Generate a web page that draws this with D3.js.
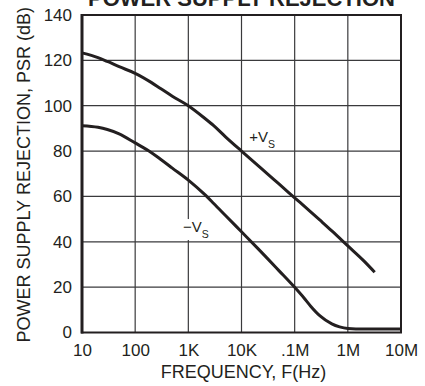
<!DOCTYPE html>
<html>
<head>
<meta charset="utf-8">
<script src="https://cdn.jsdelivr.net/npm/d3@7"></script>
<style>
  html, body { margin: 0; padding: 0; background: #fff; }
  svg { display: block; font-family: "Liberation Sans", Arial, Helvetica, sans-serif; }
</style>
</head>
<body>
<svg id="chart" width="425" height="386"></svg>
<script>
// Frequency axis ticks (Hz) and their printed labels
const freqTicks = [10, 100, 1e3, 1e4, 1e5, 1e6, 1e7];
const freqLabels = ["10", "100", "1K", "10K", ".1M", "1M", "10M"];
const psrTicks = [0, 20, 40, 60, 80, 100, 120, 140];

// +Vs supply rejection, frequency (Hz) vs PSR (dB)
const posFreq = [10, 20, 30, 50, 100, 200, 300, 500, 1e3, 2e3, 3e3, 5e3, 1e4, 2e4, 3e4, 5e4, 1e5, 2e5, 3e5, 5e5, 1e6, 2e6, 3.2e6];
const posPsr  = [123.3, 121.2, 119.5, 117.2, 114.3, 110.3, 107.6, 104.2, 100, 94.6, 91.2, 86.3, 80, 73.8, 70.2, 65.6, 59.4, 53.2, 49.5, 44.8, 38.2, 31.6, 26.6];

// -Vs supply rejection, frequency (Hz) vs PSR (dB)
const negFreq = [10, 20, 30, 50, 100, 200, 300, 500, 1e3, 2e3, 3e3, 5e3, 1e4, 2e4, 3e4, 5e4, 1e5, 1.5e5, 2e5, 3e5, 5e5, 7e5, 1e6, 2e6, 1e7];
const negPsr  = [91.2, 90.5, 89.5, 87.6, 83.6, 79.4, 76.4, 72.5, 67.2, 61, 56.9, 51.6, 44.4, 37.2, 32.9, 27.4, 19.9, 15.2, 11.6, 7.3, 3.8, 2.5, 1.8, 1.5, 1.5];

const ink = "#231f20";
const gridColor = "#3a3a3c";

const svg = d3.select("#chart");
const plotLeft = 82, plotRight = 401, plotTop = 15, plotBottom = 332.5;

const xScale = d3.scaleLog().domain([10, 1e7]).range([plotLeft, plotRight]);
const yScale = d3.scaleLinear().domain([0, 140]).range([plotBottom, plotTop]);

// Grid lines at each decade and each 20 dB step
const gridLayer = svg.append("g").attr("class", "grid-layer");
freqTicks.forEach(f => {
  gridLayer.append("line")
    .attr("x1", xScale(f)).attr("x2", xScale(f))
    .attr("y1", plotTop).attr("y2", plotBottom)
    .attr("stroke", gridColor).attr("stroke-width", 1.2);
});
psrTicks.forEach(v => {
  gridLayer.append("line")
    .attr("x1", plotLeft).attr("x2", plotRight)
    .attr("y1", yScale(v)).attr("y2", yScale(v))
    .attr("stroke", gridColor).attr("stroke-width", 1.2);
});

// Tick labels
svg.append("g")
  .attr("transform", `translate(0,${plotBottom})`)
  .call(d3.axisBottom(xScale).tickValues(freqTicks).tickSize(0).tickPadding(11)
        .tickFormat((d, i) => freqLabels[i]))
  .call(g => g.select(".domain").remove())
  .call(g => g.selectAll("text").attr("font-size", 17).attr("fill", ink)
        .attr("font-family", "'Liberation Sans', Arial, sans-serif"));
svg.append("g")
  .attr("transform", `translate(${plotLeft},0)`)
  .call(d3.axisLeft(yScale).tickValues(psrTicks).tickSize(0).tickPadding(10))
  .call(g => g.select(".domain").remove())
  .call(g => g.selectAll("text").attr("font-size", 17).attr("fill", ink)
        .attr("font-family", "'Liberation Sans', Arial, sans-serif"));

// Curves
const psrLine = d3.line()
  .x(d => xScale(d[0]))
  .y(d => yScale(d[1]))
  .curve(d3.curveMonotoneX);

const curveLayer = svg.append("g");
curveLayer.append("path")
  .datum(posFreq.map((f, i) => [f, posPsr[i]]))
  .attr("d", psrLine)
  .attr("fill", "none").attr("stroke", ink).attr("stroke-width", 3);
curveLayer.append("path")
  .datum(negFreq.map((f, i) => [f, negPsr[i]]))
  .attr("d", psrLine)
  .attr("fill", "none").attr("stroke", ink).attr("stroke-width", 3);

// Frame
svg.append("rect")
  .attr("x", plotLeft).attr("y", plotTop)
  .attr("width", plotRight - plotLeft).attr("height", plotBottom - plotTop)
  .attr("fill", "none").attr("stroke", ink).attr("stroke-width", 2);
svg.append("line")
  .attr("x1", plotLeft).attr("x2", plotLeft).attr("y1", plotTop - 1).attr("y2", plotBottom + 1)
  .attr("stroke", ink).attr("stroke-width", 3);

// Curve labels
function supplyLabel(fx, py, sign, knockout) {
  const g = svg.append("g").attr("transform", `translate(${xScale(fx)},${yScale(py)})`);
  if (knockout) {
    g.append("rect").attr("x", -1).attr("y", -13).attr("width", 33).attr("height", 21).attr("fill", "#fff");
  }
  const t = g.append("text").attr("font-size", 15).attr("fill", ink);
  t.append("tspan").text(sign + "V");
  t.append("tspan").attr("font-size", 10.5).attr("dy", 5.7).text("S");
}
supplyLabel(1.4e4, 84, "+", false);
supplyLabel(795, 44.3, "\u2212", true);

// Titles
svg.append("text")
  .attr("x", (plotLeft + plotRight) / 2).attr("y", 6)
  .attr("text-anchor", "middle")
  .attr("font-size", 22).attr("font-weight", "bold").attr("fill", ink)
  .text("POWER SUPPLY REJECTION");
svg.append("text")
  .attr("x", (plotLeft + plotRight) / 2 + 2).attr("y", 378)
  .attr("text-anchor", "middle")
  .attr("font-size", 18).attr("fill", ink)
  .text("FREQUENCY, F(Hz)");
svg.append("text")
  .attr("transform", `translate(30,${(plotTop + plotBottom) / 2 + 1}) rotate(-90)`)
  .attr("text-anchor", "middle")
  .attr("font-size", 18).attr("fill", ink)
  .text("POWER SUPPLY REJECTION, PSR (dB)");
</script>
</body>
</html>
